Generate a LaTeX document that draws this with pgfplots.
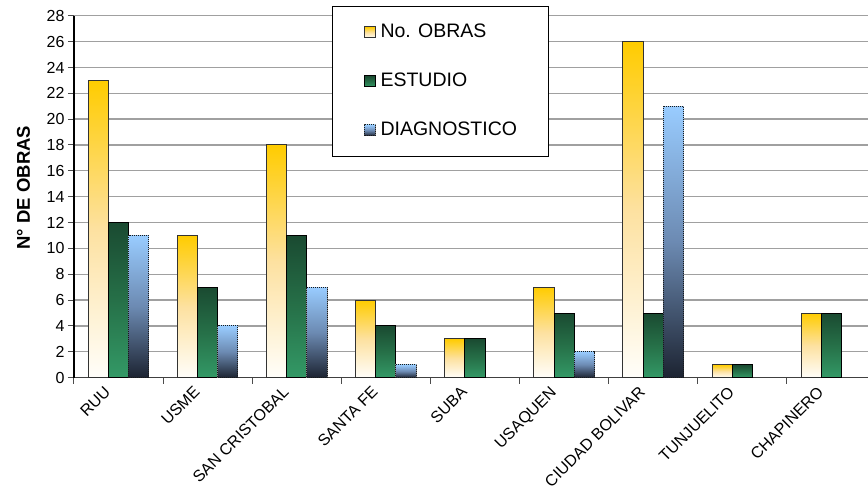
\documentclass[border=0pt]{standalone}
\usepackage{fontspec}
\setmainfont{Liberation Sans}
\usepackage{pgfplots}
\pgfplotsset{compat=1.18}

% bar shading colours
\definecolor{obrasTop}{RGB}{255,204,0}
\definecolor{obrasMid}{RGB}{253,225,160}
\definecolor{obrasBot}{RGB}{255,254,250}
\definecolor{estTop}{RGB}{26,74,49}
\definecolor{estMid}{RGB}{38,112,72}
\definecolor{estBot}{RGB}{51,153,102}
\definecolor{diagTop}{RGB}{153,204,255}
\definecolor{diagMid}{RGB}{108,138,178}
\definecolor{diagBot}{RGB}{28,35,49}
\definecolor{gridgray}{RGB}{160,160,160}

% each bar is its own plot so that its gradient spans only that bar
\pgfplotsset{
  squarelegend/.style={legend image code/.code={\draw[##1] (0pt,-5.5pt) rectangle (11pt,5.5pt);}},
  obras/.style={draw=black!80, line width=1pt,
    top color=obrasTop, bottom color=obrasBot, middle color=obrasMid,
    bar shift=-20.2pt, squarelegend},
  estudio/.style={draw=black, line width=1pt,
    top color=estTop, bottom color=estBot, middle color=estMid,
    bar shift=0pt, squarelegend},
  diag/.style={preaction={draw=black!45, solid, line width=1pt},
    draw=black!90, densely dotted, line width=1pt,
    top color=diagTop, bottom color=diagBot, middle color=diagMid,
    bar shift=20.2pt, squarelegend},
}

\begin{document}
\begin{tikzpicture}
\begin{axis}[
  at={(74pt,121.3pt)}, anchor=south west,
  scale only axis, width=794pt, height=362pt,
  xmin=-0.5, xmax=8.41, ymin=0, ymax=28,
  ybar=0pt, bar width=20.2pt,
  axis x line*=bottom, axis y line*=left,
  x axis line style={-, draw=black!75, line width=1.3pt},
  y axis line style={-, draw=black, line width=1.1pt},
  tick align=outside, major tick length=6pt,
  tick style={draw=black!70, line width=1pt},
  ytick={0,2,...,28},
  ymajorgrids, major grid style={draw=gridgray, line width=1.3pt},
  xtick={-0.5,0.5,...,7.5}, xticklabels={},
  extra x ticks={0,1,2,3,4,5,6,7,8},
  extra x tick labels={RUU,USME,SAN CRISTOBAL,SANTA FE,SUBA,USAQUEN,CIUDAD BOLIVAR,TUNJUELITO,CHAPINERO},
  extra x tick style={grid=none, tick style={draw=none}},
  xticklabel style={xshift=-15pt, rotate=45, anchor=north east, inner sep=1pt,
    font=\fontsize{16}{18}\selectfont},
  yticklabel style={font=\fontsize{16}{18}\selectfont},
  /pgf/number format/assume math mode=true,
  ylabel={\bfseries N° DE OBRAS},
  ylabel style={at={(axis description cs:-0.0636,0.525)}, anchor=center,
    font=\fontsize{18.5}{21}\selectfont},
  legend style={at={(axis description cs:0.325,1.027)}, anchor=north west,
    draw=black, line width=1pt, fill=white,
    font=\fontsize{19.5}{22}\selectfont,
    inner xsep=31pt, inner ysep=17pt, row sep=31pt, column sep=5pt,
    nodes={inner sep=0pt, text height=14pt, text depth=4pt}},
  legend cell align=left,
]
% legend entries: first bar of each series
\addplot[obras]   coordinates {(0,23)};
\addplot[estudio] coordinates {(0,12)};
\addplot[diag]    coordinates {(0,11)};
\legend{No. OBRAS, ESTUDIO, DIAGNOSTICO}

% No. OBRAS
\addplot[obras, forget plot] coordinates {(1,11)};
\addplot[obras, forget plot] coordinates {(2,18)};
\addplot[obras, forget plot] coordinates {(3,6)};
\addplot[obras, forget plot] coordinates {(4,3)};
\addplot[obras, forget plot] coordinates {(5,7)};
\addplot[obras, forget plot] coordinates {(6,26)};
\addplot[obras, forget plot] coordinates {(7,1)};
\addplot[obras, forget plot] coordinates {(8,5)};

% ESTUDIO
\addplot[estudio, forget plot] coordinates {(1,7)};
\addplot[estudio, forget plot] coordinates {(2,11)};
\addplot[estudio, forget plot] coordinates {(3,4)};
\addplot[estudio, forget plot] coordinates {(4,3)};
\addplot[estudio, forget plot] coordinates {(5,5)};
\addplot[estudio, forget plot] coordinates {(6,5)};
\addplot[estudio, forget plot] coordinates {(7,1)};
\addplot[estudio, forget plot] coordinates {(8,5)};

% DIAGNOSTICO
\addplot[diag, forget plot] coordinates {(1,4)};
\addplot[diag, forget plot] coordinates {(2,7)};
\addplot[diag, forget plot] coordinates {(3,1)};
\addplot[diag, forget plot] coordinates {(5,2)};
\addplot[diag, forget plot] coordinates {(6,21)};
\end{axis}
\pgfresetboundingbox
\path (0pt,0pt) rectangle (868pt,499pt);
\end{tikzpicture}
\end{document}
